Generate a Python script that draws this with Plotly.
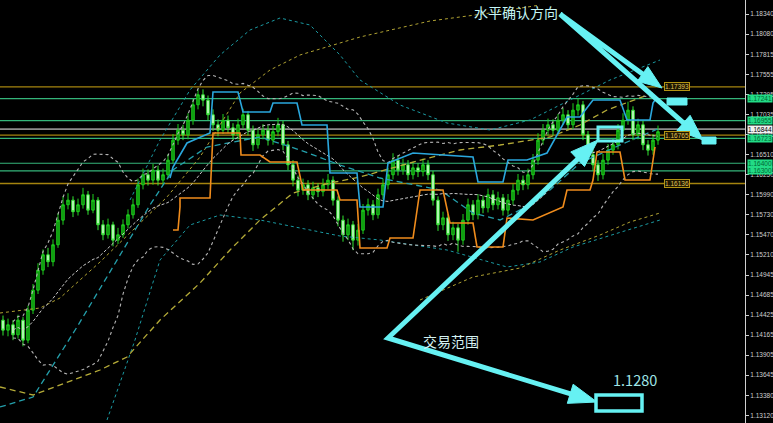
import plotly.graph_objects as go
import pandas as pd

# ---------------- data ----------------
closes = [1.1423, 1.1430, 1.1417, 1.1436, 1.1410, 1.1449, 1.1475, 1.1501, 1.1521, 1.1512,
          1.1534, 1.1566, 1.1586, 1.1592, 1.1577, 1.1586, 1.1599, 1.1579, 1.1592, 1.1560,
          1.1547, 1.1560, 1.1540, 1.1547, 1.1560, 1.1573, 1.1586, 1.1612, 1.1625, 1.1618,
          1.1631, 1.1618, 1.1625, 1.1644, 1.1670, 1.1683, 1.1677, 1.1696, 1.1716, 1.1729,
          1.1722, 1.1703, 1.1690, 1.1683, 1.1696, 1.1686, 1.1677, 1.1690, 1.1703, 1.1683,
          1.1664, 1.1677, 1.1683, 1.1670, 1.1681, 1.1690, 1.1664, 1.1638, 1.1618, 1.1605,
          1.1612, 1.1599, 1.1608, 1.1603, 1.1612, 1.1618, 1.1592, 1.1566, 1.1547, 1.1560,
          1.1540, 1.1553, 1.1579, 1.1586, 1.1573, 1.1599, 1.1612, 1.1625, 1.1644, 1.1631,
          1.1638, 1.1625, 1.1634, 1.1629, 1.1638, 1.1625, 1.1592, 1.1560, 1.1569, 1.1547,
          1.1556, 1.1540, 1.1566, 1.1586, 1.1573, 1.1592, 1.1582, 1.1599, 1.1586, 1.1595,
          1.1579, 1.1592, 1.1605, 1.1618, 1.1612, 1.1625, 1.1644, 1.1670, 1.1683, 1.1690,
          1.1683, 1.1696, 1.1703, 1.1690, 1.1709, 1.1716, 1.1677, 1.1651, 1.1638, 1.1625,
          1.1644, 1.1657, 1.1664, 1.1683, 1.1696, 1.1709, 1.1677, 1.1690, 1.1664, 1.1657,
          1.1670, 1.1681]
highs = [1.1442, 1.1438, 1.1436, 1.1443, 1.1440, 1.1455, 1.1483, 1.1510, 1.1528, 1.1530,
         1.1541, 1.1575, 1.1597, 1.1601, 1.1597, 1.1594, 1.1608, 1.1604, 1.1600, 1.1596,
         1.1566, 1.1568, 1.1564, 1.1556, 1.1567, 1.1580, 1.1594, 1.1620, 1.1633, 1.1632,
         1.1639, 1.1637, 1.1633, 1.1652, 1.1678, 1.1691, 1.1690, 1.1705, 1.1724, 1.1736,
         1.1736, 1.1728, 1.1710, 1.1697, 1.1704, 1.1702, 1.1692, 1.1698, 1.1711, 1.1708,
         1.1689, 1.1685, 1.1691, 1.1689, 1.1689, 1.1699, 1.1695, 1.1669, 1.1644, 1.1624,
         1.1620, 1.1618, 1.1616, 1.1614, 1.1620, 1.1626, 1.1623, 1.1597, 1.1572, 1.1568,
         1.1565, 1.1561, 1.1587, 1.1594, 1.1592, 1.1607, 1.1620, 1.1634, 1.1653, 1.1650,
         1.1646, 1.1644, 1.1642, 1.1640, 1.1646, 1.1644, 1.1630, 1.1597, 1.1577, 1.1574,
         1.1564, 1.1561, 1.1574, 1.1594, 1.1592, 1.1600, 1.1598, 1.1607, 1.1605, 1.1603,
         1.1600, 1.1600, 1.1613, 1.1626, 1.1624, 1.1633, 1.1652, 1.1679, 1.1691, 1.1698,
         1.1697, 1.1704, 1.1712, 1.1709, 1.1718, 1.1724, 1.1721, 1.1682, 1.1657, 1.1644,
         1.1652, 1.1665, 1.1672, 1.1691, 1.1705, 1.1720, 1.1714, 1.1698, 1.1695, 1.1670,
         1.1678, 1.1689]
lows = [1.1416, 1.1415, 1.1410, 1.1412, 1.1402, 1.1406, 1.1444, 1.1470, 1.1495, 1.1505,
        1.1506, 1.1530, 1.1560, 1.1580, 1.1570, 1.1572, 1.1581, 1.1573, 1.1575, 1.1553,
        1.1540, 1.1542, 1.1532, 1.1535, 1.1543, 1.1555, 1.1568, 1.1582, 1.1606, 1.1611,
        1.1612, 1.1611, 1.1612, 1.1620, 1.1640, 1.1664, 1.1670, 1.1671, 1.1690, 1.1710,
        1.1714, 1.1696, 1.1682, 1.1675, 1.1678, 1.1679, 1.1670, 1.1671, 1.1685, 1.1676,
        1.1656, 1.1659, 1.1671, 1.1663, 1.1664, 1.1675, 1.1657, 1.1631, 1.1610, 1.1597,
        1.1599, 1.1592, 1.1593, 1.1596, 1.1597, 1.1606, 1.1585, 1.1558, 1.1538, 1.1540,
        1.1527, 1.1533, 1.1548, 1.1572, 1.1566, 1.1568, 1.1593, 1.1606, 1.1619, 1.1624,
        1.1625, 1.1618, 1.1619, 1.1622, 1.1623, 1.1618, 1.1585, 1.1552, 1.1553, 1.1539,
        1.1540, 1.1525, 1.1534, 1.1560, 1.1566, 1.1567, 1.1575, 1.1576, 1.1579, 1.1580,
        1.1572, 1.1573, 1.1586, 1.1599, 1.1605, 1.1606, 1.1619, 1.1638, 1.1664, 1.1676,
        1.1676, 1.1677, 1.1690, 1.1683, 1.1684, 1.1702, 1.1670, 1.1644, 1.1630, 1.1617,
        1.1619, 1.1638, 1.1651, 1.1658, 1.1677, 1.1690, 1.1670, 1.1671, 1.1657, 1.1650,
        1.1651, 1.1664]
first_open = 1.1436

# horizontal levels
levels_green = [1.17241, 1.16955, 1.16723, 1.16400, 1.16300]
levels_gold = [1.17393, 1.16765, 1.16136]
levels_gray = [1.16844]

# indicator lines (bar index, price)
teal_dash_x = [-0.6, 6, 14.8, 22.8, 29.4, 34, 40.8, 51.4, 59.4, 67.4, 75.4, 87.4, 94, 99.4, 105.4, 109.4, 115.4, 123.4, 131.4]
teal_dash_y = [1.13231, 1.13361, 1.14271, 1.15142, 1.15857, 1.16312, 1.16611, 1.16741, 1.16572, 1.16377,
               1.16208, 1.16052, 1.15753, 1.15662, 1.15857, 1.16052, 1.16403, 1.16637, 1.16858]
teal_up_x = [25.4, 31.4, 37.4, 43.4, 49.4, 55.4, 61.4, 67.4, 71.4, 79.4, 88.8, 97.4, 105.4, 113.4, 121.4, 131.4]
teal_up_y = [1.15922, 1.16702, 1.17352, 1.17807, 1.18132, 1.18288, 1.18197, 1.17807, 1.17482, 1.17157,
             1.16923, 1.16832, 1.16962, 1.17222, 1.17482, 1.17742]
teal_lo_x = [20.8, 26.4, 31.4, 37.4, 43.4, 51.4, 59.4, 67.4, 75.4, 88.8, 100.8, 107.4, 114, 123.4, 131.4]
teal_lo_y = [1.13062, 1.14102, 1.15142, 1.15597, 1.15727, 1.15662, 1.15558, 1.15454, 1.15402, 1.15272,
             1.15051, 1.15116, 1.15311, 1.15506, 1.15662]
gold_dash_x = [-0.6, 6, 19.4, 24.8, 31.4, 39.4, 45.4, 51.4, 58, 65.4, 71.4, 81.4, 91.4, 99.4, 109.4, 115.4, 120.8, 130]
gold_dash_y = [1.13491, 1.13387, 1.13712, 1.13881, 1.14362, 1.14843, 1.15272, 1.15662, 1.16013, 1.16143,
               1.16221, 1.16403, 1.16572, 1.16637, 1.16741, 1.16897, 1.17092, 1.17313]
gold_dot_x = [-0.6, 7.4, 11.4, 19.4, 32.8, 39.4, 47.4, 53.4, 59.4, 71.4, 85.4, 97.4, 107.4]
gold_dot_y = [1.14453, 1.14518, 1.14648, 1.15116, 1.15961, 1.16481, 1.17313, 1.17612, 1.17807, 1.18041,
              1.18249, 1.18353, 1.18457]
gold_lo_x = [83.4, 94, 103.4, 111.4, 119.4, 125.4, 131.4]
gold_lo_y = [1.14622, 1.14921, 1.15038, 1.15272, 1.15467, 1.15636, 1.15753]
blue_x = [33.4, 34, 36.8, 41.4, 42, 47, 48, 53.4, 54, 58.8, 59.8, 64.8, 65.4, 70.8, 71.4, 76, 77, 82,
          94, 95, 100, 101, 104.8, 108.8, 112.8, 115.4, 118, 123.4, 124.8, 129.4, 130, 130.8]
blue_y = [1.16208, 1.16351, 1.16663, 1.16793, 1.17326, 1.17326, 1.17066, 1.17066, 1.17183, 1.17183,
          1.16897, 1.16897, 1.16273, 1.16273, 1.15831, 1.15831, 1.16403, 1.16533, 1.16481, 1.16156,
          1.16156, 1.16442, 1.16442, 1.16533, 1.17001, 1.17001, 1.17222, 1.17222, 1.16962, 1.16962,
          1.17183, 1.17261]
orange_x = [34, 35, 35.4, 35.4, 41.4, 42, 47.4, 47.6, 51.4, 53.4, 58.8, 60, 66.8, 67.4, 70.8, 71.4,
            76.8, 77.4, 82, 83.4, 88, 89.4, 94, 94.8, 100, 100.8, 106, 112, 112.8, 117.4, 118, 118.8,
            123.4, 124.4, 129.4, 130.4]
orange_y = [1.15532, 1.15532, 1.15831, 1.15948, 1.15948, 1.16793, 1.16793, 1.16507, 1.16507, 1.16416,
            1.16416, 1.16052, 1.16052, 1.15922, 1.15922, 1.15298, 1.15298, 1.15428, 1.15428, 1.16052,
            1.16052, 1.15623, 1.15623, 1.15311, 1.15311, 1.15688, 1.15662, 1.15831, 1.16052, 1.16052,
            1.16182, 1.16546, 1.16546, 1.16182, 1.16182, 1.16611]

tick_vals = [1.18340, 1.18080, 1.17815, 1.17555, 1.17295, 1.17035, 1.16775, 1.16510, 1.16250, 1.15990,
             1.15730, 1.15470, 1.15210, 1.14945, 1.14685, 1.14425, 1.14165, 1.13905, 1.13645, 1.13380, 1.13120]
tick_text = ["%.5f" % v for v in tick_vals]
y_range = [1.13023, 1.18522]
x_range = [-0.6, 148.4]

# ---------------- figure ----------------
idx = list(range(len(closes)))
opens = [first_open] + closes[:-1]
s = pd.Series(closes)
bb_mid = s.rolling(20, min_periods=3).mean()
bb_sd = s.rolling(20, min_periods=3).std(ddof=0)
bb_up = bb_mid + 2 * bb_sd
bb_lo = bb_mid - 2 * bb_sd

fig = go.Figure()

def line(x, y, color, dash="solid", width=1.0):
    fig.add_trace(go.Scatter(x=x, y=y, mode="lines", line=dict(color=color, dash=dash, width=width),
                             hoverinfo="skip", showlegend=False))

line(teal_up_x, teal_up_y, "#1b9aa2", "dot")
line(teal_lo_x, teal_lo_y, "#1b9aa2", "dot")
line(gold_dot_x, gold_dot_y, "#b0a233", "dot")
line(gold_lo_x, gold_lo_y, "#b0a233", "dot")
line(teal_dash_x, teal_dash_y, "#24a0ac", "6px,4px", 1.3)
line(gold_dash_x, gold_dash_y, "#b5ab38", "6px,4px", 1.3)
line(idx, list(bb_up), "#b4b4b4", "dot", 1.1)
line(idx, list(bb_lo), "#b4b4b4", "dot", 1.1)
line(idx, list(bb_mid), "#c8c8c8", "3px,2px")
line(blue_x, blue_y, "#2aa7dd", "solid", 1.6)
line(orange_x, orange_y, "#f08c1c", "solid", 1.6)

fig.add_trace(go.Candlestick(
    x=idx, open=opens, high=highs, low=lows, close=closes,
    increasing=dict(line=dict(color="#1fcf1f", width=1), fillcolor="#0b8f0b"),
    decreasing=dict(line=dict(color="#33e633", width=1), fillcolor="#dcffdc"),
    whiskerwidth=0, hoverinfo="skip", showlegend=False))

shapes = []
for lv in levels_green:
    shapes.append(dict(type="line", xref="paper", yref="y", x0=0, x1=1, y0=lv, y1=lv,
                       line=dict(color="#34b57a", width=1.2), layer="below"))
for lv in levels_gold:
    shapes.append(dict(type="line", xref="paper", yref="y", x0=0, x1=1, y0=lv, y1=lv,
                       line=dict(color="#a5840f", width=1.4), layer="below"))
for lv in levels_gray:
    shapes.append(dict(type="line", xref="paper", yref="y", x0=0, x1=1, y0=lv, y1=lv,
                       line=dict(color="#8c8c8c", width=1.6), layer="below"))

# ---- cyan hand-drawn annotations (pixel layout -> paper) ----
PW, PH = 745.0, 423.0
CY = "#66f1f3"

def P(px, py):
    return px / PW, 1 - py / PH

def head(tip, frm, L=24, hw=9):
    import math
    dx, dy = tip[0] - frm[0], tip[1] - frm[1]
    n = math.hypot(dx, dy)
    ux, uy = dx / n, dy / n
    bx, by = tip[0] - ux * L, tip[1] - uy * L
    px_, py_ = -uy, ux
    a = P(bx + px_ * hw, by + py_ * hw)
    b = P(bx - px_ * hw, by - py_ * hw)
    t = P(*tip)
    shapes.append(dict(type="path", xref="paper", yref="paper",
                       path="M %f %f L %f %f L %f %f Z" % (a[0], a[1], t[0], t[1], b[0], b[1]),
                       fillcolor=CY, line=dict(color=CY, width=1)))
    return (bx + ux * 3, by + uy * 3)

def polyline(pts, width=5):
    q = [P(*p) for p in pts]
    path = "M %f %f " % q[0] + " ".join("L %f %f" % p for p in q[1:])
    shapes.append(dict(type="path", xref="paper", yref="paper", path=path,
                       line=dict(color=CY, width=width)))

def rect(x0, y0, x1, y1, fill=False, width=3):
    a, b = P(x0, y0), P(x1, y1)
    shapes.append(dict(type="rect", xref="paper", yref="paper", x0=a[0], y0=a[1], x1=b[0], y1=b[1],
                       line=dict(color=CY, width=width), fillcolor=CY if fill else "rgba(0,0,0,0)"))

start = (560, 14)
e1 = head((662, 88), start, 24, 9)
e2 = head((703, 140), start, 26, 10)
polyline([e1, start, e2], 5)
rect(667, 98, 687, 105, fill=True, width=1)
rect(702, 137, 716, 144, fill=True, width=1)

vtx = (388, 338)
u1 = head((598, 140), vtx, 28, 10)
u2 = head((597, 402), vtx, 28, 10)
polyline([u1, vtx, u2], 5)
rect(598, 127, 622, 141, width=3)
rect(596, 395, 642, 411, width=3.5)

annotations = []
def txt(s, px, py, size, color):
    x, y = P(px, py)
    annotations.append(dict(text=s, x=x, y=y, xref="paper", yref="paper", showarrow=False,
                            xanchor="center", yanchor="middle",
                            font=dict(family="Noto Sans CJK SC", size=size, color=color)))

txt("水平确认方向", 516, 12, 14, "#c4f5f5")
txt("交易范围", 451, 341, 14, "#d6f3f3")
txt("1.1280", 635, 379, 14.5, "#9fe5e7")

AXF = "Liberation Sans"
# price boxes on the axis
for lv in levels_green:
    annotations.append(dict(text="%.5f" % lv, x=1, xref="paper", y=lv, yref="y", xanchor="left",
                            xshift=2, showarrow=False, bgcolor="#22dc86", borderpad=0,
                            font=dict(family=AXF, size=6.5, color="#063")))
for lv in levels_gray:
    annotations.append(dict(text="%.5f" % lv, x=1, xref="paper", y=lv, yref="y", xanchor="left",
                            xshift=2, showarrow=False, bgcolor="#f2f2f2", borderpad=0,
                            font=dict(family=AXF, size=6.5, color="#000")))
for lv in levels_gold:
    annotations.append(dict(text="%.5f" % lv, x=132.2, xref="x", y=lv, yref="y", xanchor="left",
                            showarrow=False, bgcolor="#1c1600", bordercolor="#b39412", borderwidth=1,
                            borderpad=0, font=dict(family=AXF, size=6.5, color="#e0c458")))

fig.update_layout(
    width=773, height=423, margin=dict(l=0, r=28, t=0, b=0),
    paper_bgcolor="#000000", plot_bgcolor="#000000", showlegend=False,
    shapes=shapes, annotations=annotations,
    xaxis=dict(range=x_range, visible=False, rangeslider=dict(visible=False), fixedrange=True),
    yaxis=dict(range=y_range, side="right", tickvals=tick_vals, ticktext=tick_text,
               tickfont=dict(family=AXF, size=6.5, color="#cfcfcf"),
               ticks="outside", ticklen=3, tickcolor="#cfcfcf", showline=True, linecolor="#cfcfcf",
               linewidth=1, showgrid=False, zeroline=False, fixedrange=True, automargin=False),
)

fig.write_html("out.html", config={"displayModeBar": False},
               post_script="document.body.style.margin='0';document.body.style.background='#000';")
